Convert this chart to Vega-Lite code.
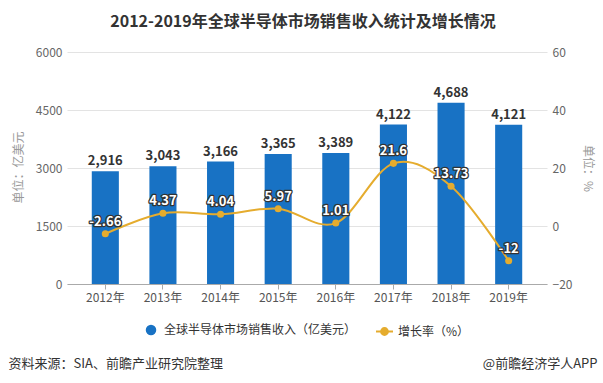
{
  "$schema": "https://vega.github.io/schema/vega-lite/v6.json",
  "width": 480,
  "height": 232,
  "autosize": {"type": "none"},
  "padding": {"left": 67, "top": 52, "right": 56, "bottom": 99},
  "background": "white",
  "config": {"font": "Noto Sans CJK SC", "view": {"stroke": null}},
  "title": {
    "text": "2012-2019年全球半导体市场销售收入统计及增长情况",
    "fontSize": 16,
    "fontWeight": "bold",
    "color": "#333333",
    "anchor": "middle",
    "dx": -4,
    "offset": 16
  },
  "data": {
    "values": [
      {"year": "2012年", "value": 2916, "rate": -2.66},
      {"year": "2013年", "value": 3043, "rate": 4.37},
      {"year": "2014年", "value": 3166, "rate": 4.04},
      {"year": "2015年", "value": 3365, "rate": 5.97},
      {"year": "2016年", "value": 3389, "rate": 1.01},
      {"year": "2017年", "value": 4122, "rate": 21.6},
      {"year": "2018年", "value": 4688, "rate": 13.73},
      {"year": "2019年", "value": 4121, "rate": -12}
    ]
  },
  "layer": [
    {
      "encoding": {
        "x": {
          "field": "year",
          "type": "nominal",
          "sort": null,
          "scale": {"paddingInner": 0.53, "paddingOuter": 0.43},
          "axis": {
            "orient": "bottom",
            "labelAngle": 0,
            "labelColor": "#555555",
            "labelFontSize": 12,
            "labelPadding": 3,
            "tickSize": 5,
            "tickColor": "#aaaaaa",
            "domainColor": "#aaaaaa",
            "grid": false,
            "title": "资料来源：SIA、前瞻产业研究院整理",
            "titleX": -59,
            "titleY": 79,
            "titleAlign": "left",
            "titleBaseline": "middle",
            "titleFontSize": 13,
            "titleFontWeight": "normal",
            "titleColor": "#333333"
          }
        },
        "y": {
          "field": "value",
          "type": "quantitative",
          "scale": {"domain": [0, 6000]},
          "axis": {
            "values": [0, 1500, 3000, 4500, 6000],
            "format": "d",
            "domain": false,
            "ticks": false,
            "grid": true,
            "gridColor": "#e3e3e3",
            "labelColor": "#666666",
            "labelFontSize": 12,
            "labelPadding": 5,
            "title": "单位：亿美元",
            "titleColor": "#999999",
            "titleFontSize": 12,
            "titleFontWeight": "normal",
            "titleX": -49,
            "titleY": 115,
            "titleAngle": -90,
            "titleAlign": "center",
            "titleBaseline": "middle"
          }
        }
      },
      "layer": [
        {
          "mark": {"type": "bar"},
          "encoding": {
            "color": {
              "datum": "全球半导体市场销售收入（亿美元）",
              "scale": {"range": ["#1872c4"]},
              "legend": {
                "orient": "none",
                "legendX": 78,
                "legendY": 272,
                "title": null,
                "padding": 0,
                "symbolType": "circle",
                "symbolSize": 110,
                "labelFontSize": 12,
                "labelColor": "#333333",
                "labelOffset": 7,
                "labelLimit": 400
              }
            }
          }
        },
        {
          "mark": {"type": "text", "fontWeight": "bold", "fontSize": 13, "color": "#333333", "dy": -10},
          "encoding": {"text": {"field": "value", "type": "quantitative", "format": ","}}
        }
      ]
    },
    {
      "encoding": {
        "x": {
          "field": "year",
          "type": "nominal",
          "sort": null,
          "axis": {
            "orient": "bottom",
            "labels": false,
            "ticks": false,
            "domain": false,
            "grid": false,
            "title": "@前瞻经济学人APP",
            "titleX": 530,
            "titleY": 79,
            "titleAlign": "right",
            "titleBaseline": "middle",
            "titleFontSize": 13,
            "titleFontWeight": "normal",
            "titleColor": "#333333"
          }
        },
        "y": {
          "field": "rate",
          "type": "quantitative",
          "scale": {"domain": [-20, 60]},
          "axis": {
            "orient": "right",
            "values": [-20, 0, 20, 40, 60],
            "domain": false,
            "ticks": false,
            "grid": false,
            "labelColor": "#666666",
            "labelFontSize": 12,
            "labelPadding": 5,
            "title": "单位：%",
            "titleColor": "#999999",
            "titleFontSize": 12,
            "titleFontWeight": "normal",
            "titleX": 40,
            "titleY": 116,
            "titleAngle": 90,
            "titleAlign": "center",
            "titleBaseline": "middle"
          }
        }
      },
      "layer": [
        {
          "mark": {"type": "line", "color": "#e5ac2e", "strokeWidth": 2, "interpolate": "cardinal"},
          "encoding": {}
        },
        {
          "mark": {"type": "point", "filled": true, "size": 50, "opacity": 1},
          "encoding": {
            "fill": {
              "datum": "增长率（%）",
              "scale": {"range": ["#e5ac2e"]},
              "legend": {
                "orient": "none",
                "legendX": 308,
                "legendY": 270,
                "title": null,
                "padding": 0,
                "symbolType": "M-1,0L1,0M0.4,0A0.4,0.4,0,1,1,-0.4,0A0.4,0.4,0,1,1,0.4,0Z",
                "symbolSize": 289,
                "symbolStrokeColor": "#e5ac2e",
                "symbolStrokeWidth": 2,
                "labelFontSize": 12,
                "labelColor": "#333333",
                "labelOffset": 4,
                "labelLimit": 400
              }
            }
          }
        },
        {
          "mark": {"type": "text", "fontWeight": "bold", "fontSize": 13, "dy": -12, "stroke": "#333333", "strokeWidth": 2.5, "strokeJoin": "round", "fill": "#333333"},
          "encoding": {"text": {"field": "rate", "type": "nominal"}}
        },
        {
          "mark": {"type": "text", "fontWeight": "bold", "fontSize": 13, "dy": -12, "fill": "white"},
          "encoding": {"text": {"field": "rate", "type": "nominal"}}
        }
      ]
    }
  ],
  "resolve": {"scale": {"y": "independent"}, "axis": {"x": "independent"}}
}
